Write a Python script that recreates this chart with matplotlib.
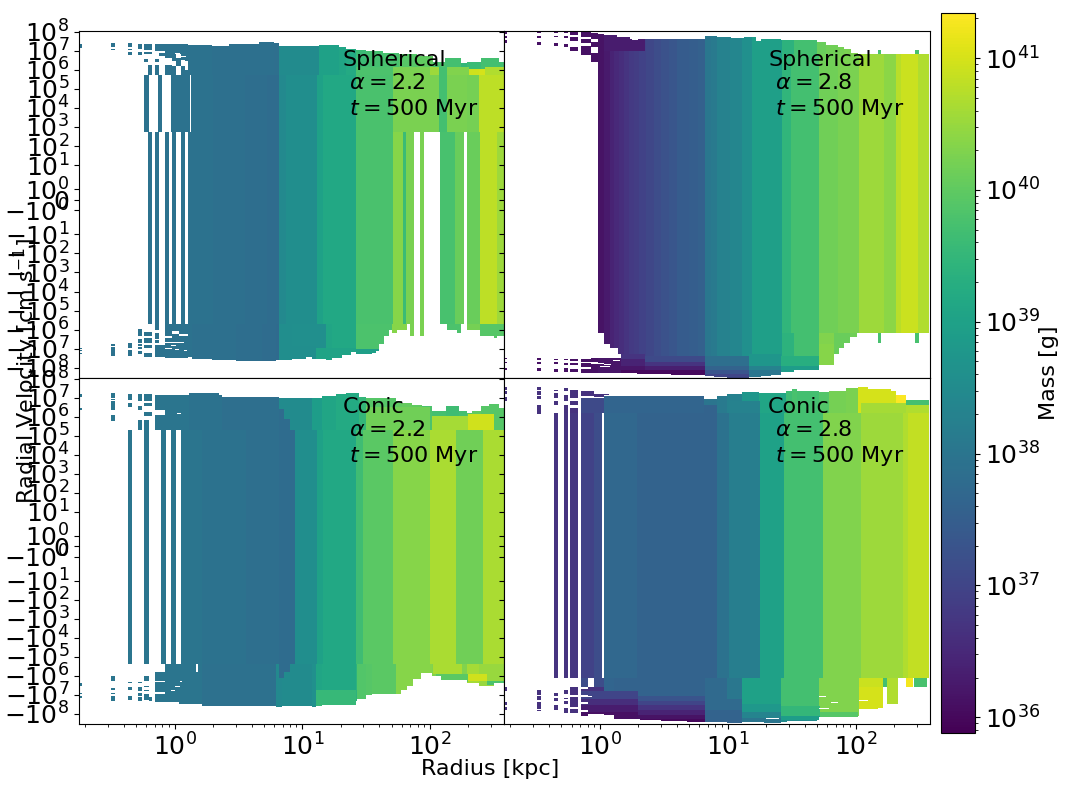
import numpy as np
import matplotlib
matplotlib.use('Agg')
import matplotlib.pyplot as plt
from matplotlib.colors import LogNorm

nan = float('nan')

# all radii are log10(kpc), velocities signed log10(cm/s), masses log10(g)

# --- Spherical, alpha 2.2
A_core_r = [-0.209, -0.177, -0.154, -0.122, -0.076, -0.044, -0.023, 0.008, 0.050, 0.081, 0.105, 0.3, 0.55, 0.72, 0.82,
            0.87, 1.112, 1.16, 1.417, 1.707, 1.79, 1.811, 1.874, 1.921, 1.952, 2.078, 2.193, 2.265, 2.291, 2.391, 2.522, 2.58]
A_core_m = [37.93, nan, 37.93, nan, 37.93, nan, 37.93, nan, 37.93, nan, 37.93, 37.88, 37.84, 37.78, 38.45,
            38.55, 39.0, 39.15, 39.78, 40.35, 39.6, 40.25, nan, 40.25, nan, 39.75, 40.1, nan, 40.1, 40.8, 40.55]
A_mid_r = [-0.240, -0.201, -0.128, -0.096, -0.026, 0.120, 0.128, 0.3, 0.55, 0.72, 0.82, 0.87, 1.112, 1.16, 1.417,
           1.707, 2.07, 2.136, 2.292, 2.383, 2.58]
A_mid_m = [37.93, nan, 37.93, nan, 37.93, nan, 37.93, 37.88, 37.84, 37.78, 38.45, 38.55, 39.0, 39.15, 39.78,
           40.25, 39.7, 40.25, 40.2, 40.8]
A_top_r = [0.105, 0.295, 0.426, 0.660, 0.778, 0.817, 1.13, 1.287, 1.339, 1.417, 1.5, 1.63, 1.76, 1.895, 2.02, 2.12,
           2.24, 2.29, 2.396, 2.54, 2.58]
A_top_v = [7.30, 7.26, 7.33, 7.44, 7.38, 7.26, 7.3, 7.2, 7.1, 7.05, 6.98, 6.9, 6.8, 6.7, 6.38, 6.6, 6.33, 6.38, 6.6, 6.42]
A_top_m = [37.93, 37.88, 37.88, 37.88, 37.85, 38.5, 39.0, 39.1, 39.2, 39.6, 39.7, 39.75, 39.9, 40.0, 39.8, 39.7, 39.5,
           39.6, 39.7, 39.7]
A_bot_r = [0.105, 0.138, 0.295, 0.478, 0.687, 0.791, 0.817, 0.922, 1.026, 1.078, 1.183, 1.235, 1.313, 1.378, 1.417, 1.548,
           1.574, 1.60, 1.64, 1.679, 1.705, 1.744, 1.822, 1.843, 1.874, 1.921, 1.953, 2.078, 2.135, 2.214, 2.24, 2.292,
           2.391, 2.50, 2.527, 2.58]
A_bot_v = [7.44, 7.52, 7.58, 7.65, 7.62, 7.58, 7.58, 7.52, 7.44, 7.52, 7.58, 7.5, 7.35, 7.17, 7.26, 7.22, 7.1, 6.73, 6.35,
           6.03, 6.16, 6.03, 5.8, 6.35, 5.8, 6.35, 5.8, 5.8, 6.03, 6.17, 5.8, 6.03, 6.35, 6.45, 6.35]
A_bot_m = [37.93, 37.88, 37.88, 37.84, 37.8, 37.75, 38.55, 38.58, 38.58, 38.58, 39.1, 39.15, 39.15, 39.15, 39.8, 39.8, 39.8,
           39.8, 39.8, 39.8, 40.35, 40.35, nan, 40.25, nan, 40.25, nan, nan, 39.8, 39.8, nan, 40.2, 39.9, 39.9, 39.9]
A_spk_r0 = [-0.749, -0.749, -0.749, -0.749, -0.498, -0.498, -0.498, -0.498, -0.365, -0.365, -0.365, -0.365, -0.365,
            -0.287, -0.287, -0.287, -0.287, -0.287, -0.287, -0.287, -0.240, -0.240, -0.240, -0.209, -0.240, -0.240, -0.240, -0.240,
            -0.154, -0.154, -0.154, -0.154, -0.154, -0.154, -0.154, -0.122, -0.122, -0.122, -0.076, -0.076, -0.076, -0.076, -0.023,
            -0.023, 0.008, 0.008, 0.05, 0.05, 0.081, 0.081, -0.076, -0.076, -0.076, -0.076, -0.023, -0.023, -0.023, 0.03, 0.03]
A_spk_r1 = [-0.728, -0.728, -0.728, -0.728, -0.467, -0.467, -0.467, -0.467, -0.334, -0.334, -0.334, -0.334, -0.334,
            -0.256, -0.256, -0.256, -0.256, -0.256, -0.256, -0.256, -0.177, -0.177, -0.209, -0.177, -0.177, -0.177, -0.177, -0.177,
            -0.122, -0.122, -0.122, -0.122, -0.122, -0.122, -0.122, -0.076, -0.076, -0.076, -0.023, -0.023, -0.023, -0.023, 0.008,
            0.008, 0.05, 0.05, 0.081, 0.081, 0.105, 0.105, -0.023, -0.023, -0.023, -0.023, 0.03, 0.03, 0.03, 0.105, 0.105]
A_spk_lo = [7.12, -7.03, -7.14, -7.28, 7.17, 7.03, -6.86, -7.38, 7.17, 7.03, 6.79, -6.96, -7.38,
            7.09, 6.79, -6.33, -6.68, -6.86, -7.03, -7.30, 7.03, 6.82, 6.38, 5.72, -6.33, -6.68, -6.96, -7.44,
            7.0, 6.39, 5.72, -6.03, -6.51, -6.7, -7.44, 7.0, 6.7, -7.44, 6.6, 5.72, -6.33, -6.62, 6.45,
            5.72, 6.8, 6.2, 6.5, 5.72, 6.45, 5.72, -6.3, -6.6, -6.95, -7.47, -6.05, -6.65, -7.47, -6.2, -7.47]
A_spk_hi = [7.35, -6.96, -7.09, -7.21, 7.38, 7.10, -6.77, -6.91, 7.38, 7.10, 6.94, -6.68, -7.05,
            7.35, 6.94, -5.98, -6.51, -6.77, -6.91, -7.12, 7.35, 6.94, 6.54, 6.24, -6.14, -6.44, -6.79, -7.21,
            7.35, 6.54, 6.24, -5.72, -6.16, -6.55, -6.8, 7.35, 6.9, -6.8, 7.35, 6.25, -5.98, -6.44, 7.35,
            6.2, 7.35, 6.6, 7.35, 6.2, 7.35, 6.0, -5.72, -6.42, -6.7, -7.0, -5.72, -6.2, -6.7, -5.72, -6.35]
A_spk_m = 37.95
A_rec_r0 = [1.417, 1.71, 2.0, 2.07, 2.136, 2.305, 2.383, 2.43, 0.82, 1.11, 1.42]
A_rec_r1 = [1.71, 2.0, 2.07, 2.136, 2.305, 2.383, 2.43, 2.58, 1.11, 1.42, 1.62]
A_rec_lo = [5.72, 5.72, 5.72, 5.72, 5.72, 5.72, 5.72, 5.72, -7.7, -7.7, -7.4]
A_rec_hi = [6.15, 6.15, 6.15, 6.15, 6.15, 6.03, 6.03, 6.15, -6.85, -6.95, -7.0]
A_rec_m = [39.8, 40.25, 40.55, 39.7, 40.3, 40.95, 41.0, 40.7, 38.55, 39.05, 38.95]
A_hole_r0 = [0.0, 0.05, 0.03, -0.03, 0.0, 0.05, 0.07]
A_hole_r1 = [0.04, 0.09, 0.07, 0.01, 0.03, 0.09, 0.1]
A_hole_lo = [6.83, 6.66, -6.7, -6.85, -7.05, -6.45, -7.1]
A_hole_hi = [6.86, 6.7, -6.66, -6.82, -7.0, -6.41, -7.06]

# --- Spherical, alpha 2.8
B_core_r = [-0.017, 0.030, 0.077, 0.11, 0.148, 0.19, 0.226, 0.265, 0.304, 0.36, 0.422, 0.48, 0.54, 0.604, 0.70, 0.77,
            0.821, 0.87, 0.918, 1.02, 1.113, 1.192, 1.421, 1.492, 1.714, 1.857, 2.027, 2.223, 2.314, 2.353, 2.484, 2.575]
B_core_m = [36.15, 36.25, 36.4, 36.5, 36.6, 36.7, 36.8, 36.85, 36.95, 37.05, 37.15, 37.25, 37.35, 37.45, 37.5, 37.55,
            38.05, 38.1, 38.3, 38.38, 38.6, 38.95, 39.45, 39.7, 40.15, 40.25, 40.55, 40.4, 40.75, 40.9, 40.7]
B_top_r = [-0.017, 0.03, 0.134, 0.239, 0.343, 0.552, 0.821, 0.918, 1.022, 1.126, 1.218, 1.257, 1.414, 1.518, 1.70,
           1.766, 1.857, 1.91, 1.962, 2.014]
B_top_v = [7.87, 7.82, 7.7, 7.61, 7.61, 7.62, 7.77, 7.73, 7.66, 7.7, 7.5, 7.6, 7.56, 7.56, 7.44, 7.3, 7.2, 7.07, 6.86]
B_top_m = [36.15, 36.3, 36.6, 36.85, 37.2, 37.5, 38.05, 38.3, 38.4, 38.7, 38.95, 39.0, 39.4, 39.7, 40.1, 40.15, 40.2,
           40.25, 40.3]
B_bot_r = [0.03, 0.082, 0.14, 0.166, 0.291, 0.552, 0.683, 0.821, 0.891, 0.996, 1.166, 1.257, 1.335, 1.414, 1.518,
           1.714, 1.831, 1.87, 1.91, 1.954, 2.009]
B_bot_v = [6.73, 6.96, 7.26, 8.28, 8.31, 8.35, 8.40, 8.44, 8.49, 8.54, 8.5, 8.45, 8.35, 8.23, 8.10, 7.87, 7.26, 6.96,
           6.7, 6.4]
B_bot_m = [36.4, 36.6, 36.75, 36.8, 37.15, 37.4, 37.5, 38.05, 38.2, 38.4, 38.7, 38.95, 39.0, 39.4, 39.7, 40.3, 40.1,
           40.1, 40.1, 40.15]
B_spk_r0 = [-0.757, -0.757, -0.757, -0.757, -0.757, -0.757, -0.492, -0.492, -0.492, -0.492, -0.492, -0.492, -0.361, -0.361, -0.361, -0.361, -0.361, -0.361,
            -0.283, -0.283, -0.283, -0.283, -0.283, -0.283, -0.231, -0.231, -0.231, -0.231, -0.231, -0.231, -0.150, -0.150, -0.150, -0.150, -0.150, -0.150,
            -0.069, -0.069, -0.069, -0.069, -0.069, -0.017, -0.017, 0.03, 0.03, 0.09]
B_spk_r1 = [-0.727, -0.727, -0.727, -0.727, -0.727, -0.727, -0.458, -0.458, -0.458, -0.458, -0.458, -0.458, -0.330, -0.330, -0.330, -0.330, -0.330, -0.330,
            -0.252, -0.252, -0.252, -0.252, -0.252, -0.252, -0.173, -0.173, -0.173, -0.173, -0.173, -0.173, -0.069, -0.069, -0.069, -0.069, -0.069, -0.069,
            -0.017, -0.017, -0.017, -0.017, -0.017, 0.03, 0.03, 0.09, 0.09, 0.166]
B_spk_lo = [7.87, 7.65, 7.42, -7.56, -7.77, -8.1, 7.91, 7.66, 7.31, -7.61, -7.82, -8.19, 7.91, 7.70, 7.26, -7.59, -7.79, -8.23,
            7.91, 7.66, 7.17, -7.61, -7.87, -8.23, 7.82, 7.5, 6.99, -7.65, -7.87, -8.23, 7.73, 7.38, 6.77, -7.70, -7.96, -8.26,
            7.6, 7.2, 6.38, -7.70, -8.26, -7.72, -8.26, -7.8, -8.26, -8.26]
B_spk_hi = [8.0, 7.77, 7.56, -7.49, -7.70, -8.0, 8.03, 7.77, 7.45, -7.49, -7.70, -8.0, 8.03, 7.77, 7.38, -7.52, -7.70, -8.05,
            8.03, 7.77, 7.35, -7.52, -7.73, -8.0, 8.03, 7.7, 7.2, -7.52, -7.75, -8.05, 8.0, 7.63, 7.24, -7.52, -7.75, -8.05,
            7.95, 7.45, 6.86, -7.49, -7.79, -7.49, -7.78, -7.49, -7.85, -7.5]
B_spk_m = 36.12
B_rec_r0 = [0.03, -0.017, 0.166, 0.166, 0.166, 0.166, 0.35, 0.35, 0.35, 0.35, 0.821, 0.821, 0.821, 0.821, 1.166, 1.166, 1.166, 1.414, 1.414, 1.714]
B_rec_r1 = [0.35, 0.166, 0.35, 0.35, 0.35, 0.35, 0.821, 0.821, 0.821, 0.821, 1.166, 1.166, 1.166, 1.166, 1.414, 1.414, 1.414, 1.714, 1.714, 1.83]
B_rec_lo = [7.0, -8.7, -7.55, -7.9, -8.1, -8.7, -7.7, -7.9, -8.1, -8.7, -7.9, -8.1, -8.3, -8.7, -7.9, -8.1, -8.7, -7.9, -8.7, -7.87]
B_rec_hi = [8.0, -7.5, -7.3, -7.55, -7.9, -8.1, -7.4, -7.7, -7.9, -8.1, -7.4, -7.9, -8.1, -8.3, -7.3, -7.9, -8.1, -7.4, -7.9, -6.73]
B_rec_m = [36.3, 36.2, 36.7, 36.4, 36.2, 36.0, 37.1, 36.7, 36.35, 36.0, 37.85, 37.6, 37.3, 37.0, 38.75, 38.3, 38.0, 39.3, 38.9, 40.35]
B_hole_r0 = [0.0, 0.1, 0.25]
B_hole_r1 = [0.08, 0.16, 0.3]
B_hole_lo = [-7.95, -7.65, 7.56]
B_hole_hi = [-7.9, -7.6, 7.6]
B_extra_r = [2.17, 2.2, 2.46, 2.49]  # the few isolated cells on the far right
B_extra_m = [39.75, nan, 39.75]

# --- Conic, alpha 2.2
C_core_r = [-0.365, -0.334, -0.240, -0.201, -0.107, -0.068, -0.029, 0.011, 0.050, 0.217, 0.556, 0.817, 0.942, 1.112,
            1.16, 1.42, 1.476, 1.707, 2.0, 2.2, 2.418, 2.58]
C_core_m = [38.0, nan, 38.0, nan, 38.0, nan, 38.0, nan, 38.0, 37.95, 37.85, 37.78, 38.55, 39.0, 39.15, 39.65, 39.95,
            40.35, 40.65, 40.15, 40.65]
C_top_r = [-0.076, 0.034, 0.112, 0.347, 0.373, 0.817, 1.078, 1.157, 1.261, 1.339, 1.444, 1.496, 1.731, 1.783, 1.861,
           1.94, 2.018, 2.122, 2.227, 2.292, 2.331, 2.396, 2.462, 2.54, 2.58]
C_top_v = [7.15, 7.15, 7.24, 7.12, 7.03, 6.98, 7.0, 7.07, 7.2, 7.24, 7.03, 6.98, 6.8, 6.72, 6.63, 6.54, 6.27, 6.54,
           6.27, 6.19, 6.27, 6.54, 6.66, 6.45]
C_top_m = [38.0, 38.0, 37.95, 37.95, 37.85, 38.5, 38.9, 39.1, 39.2, 39.2, 39.5, 39.9, 40.0, 40.05, 40.0, 39.8, 39.7,
           39.65, 39.7, 39.9, 40.0, 39.9, 39.9, 39.9]
C_bot_r = [-0.076, 0.034, 0.217, 0.791, 0.843, 0.922, 1.078, 1.11, 1.157, 1.417, 1.43, 1.496, 1.548, 1.731, 1.77,
           1.822, 1.869, 1.927, 1.966, 2.018, 2.083, 2.253, 2.292, 2.383, 2.50, 2.58]
C_bot_v = [7.35, 7.46, 7.56, 7.65, 7.56, 7.6, 7.65, 7.56, 7.51, 7.3, 7.2, 7.03, 6.98, 6.95, 6.74, 6.51, 6.16, 5.84,
           5.86, 6.02, 6.24, 6.24, 6.37, 6.51, 6.39]
C_bot_m = [38.0, 38.0, 37.9, 38.45, 38.5, 38.5, 38.6, 39.1, 39.15, 39.4, 39.85, 39.9, 39.95, 40.35, 40.35, 40.35,
           40.35, 40.35, 40.35, 40.3, 40.4, 40.3, 40.6, 40.5, 40.5]
C_spk_r0 = [-0.749, -0.749, -0.749, -0.749, -0.749, -0.498, -0.498, -0.498, -0.498, -0.498, -0.498, -0.498, -0.498,
            -0.365, -0.365, -0.365, -0.365, -0.365, -0.287, -0.287, -0.287, -0.287, -0.287, -0.287, -0.287,
            -0.240, -0.240, -0.240, -0.240, -0.240, -0.240, -0.240, -0.240, -0.201, -0.154, -0.154, -0.154, -0.154, -0.154, -0.154]
C_spk_r1 = [-0.728, -0.728, -0.728, -0.728, -0.728, -0.467, -0.467, -0.467, -0.467, -0.467, -0.467, -0.467, -0.467,
            -0.334, -0.334, -0.334, -0.334, -0.334, -0.256, -0.256, -0.256, -0.256, -0.256, -0.256, -0.256,
            -0.177, -0.177, -0.177, -0.201, -0.201, -0.201, -0.201, -0.201, -0.177, -0.076, -0.076, -0.076, -0.076, -0.076, -0.076]
C_spk_lo = [7.03, 6.33, -6.51, -6.98, -7.18, 6.98, 6.87, 6.33, 5.78, -6.25, -6.75, -6.97, -7.30,
            6.89, 6.49, -6.40, -6.72, -7.25, 6.8, 6.36, 5.31, -6.40, -6.82, -7.07, -7.33,
            6.8, 6.54, 6.05, 5.31, -6.25, -6.61, -6.82, -7.25, -7.33, 6.36, 5.31, -6.25, -6.51, -6.86, -7.39]
C_spk_hi = [7.19, 6.45, -6.37, -6.91, -7.07, 7.24, 6.94, 6.80, 6.10, -6.02, -6.65, -6.89, -7.07,
            7.21, 6.71, -6.30, -6.61, -7.04, 7.21, 6.54, 5.84, -6.30, -6.61, -6.91, -7.12,
            7.21, 6.71, 6.22, 5.84, -6.02, -6.51, -6.72, -6.95, -7.12, 7.15, 6.1, -5.81, -6.30, -6.56, -6.95]
C_spk_m = 38.0
C_rec_r0 = [2.018, 2.3, 1.5, 0.817, 0.86, 0.817, 0.86, 1.11, 2.02, 2.05, 2.3, 2.45]
C_rec_r1 = [2.3, 2.5, 2.0, 0.86, 0.90, 0.86, 0.90, 1.42, 2.25, 2.3, 2.45, 2.58]
C_rec_lo = [5.31, 5.31, 5.31, 5.31, 5.31, -6.1, -5.8, -7.6, -5.9, -6.3, -6.25, -6.5]
C_rec_hi = [6.05, 6.15, 6.5, 6.4, 5.9, -5.4, -5.4, -6.75, -5.4, -5.9, -5.9, -6.25]
C_rec_m = [40.6, 40.95, 40.15, 37.78, 37.78, 37.78, 37.78, 39.55, 40.65, 39.95, 40.95, 39.8]
C_hole_r0 = [0.17, -0.06, -0.03, 0.0, 0.04, 0.02]
C_hole_r1 = [0.18, -0.03, 0.0, 0.04, 0.06, 0.05]
C_hole_lo = [-5.81, -6.5, -6.8, -6.6, -6.3, 6.15]
C_hole_hi = [-5.4, -6.46, -6.76, -6.56, -6.26, 6.2]

# --- Conic, alpha 2.8
D_core_r = [-0.361, -0.330, -0.283, -0.252, -0.231, -0.173, -0.150, -0.05, 0.020, 0.030, 0.291, 0.912, 1.012, 1.254,
            1.440, 1.740, 2.040, 2.366, 2.410, 2.575]
D_core_m = [36.7, nan, 36.7, nan, 36.75, nan, 36.95, 37.15, nan, 37.7, 37.6, 37.95, 38.2, 39.0, 39.7, 40.3, 40.55,
            40.7, 40.85]
D_top_r = [-0.15, 0.03, 0.813, 0.918, 0.996, 1.113, 1.244, 1.453, 1.505, 1.544, 1.714, 1.792, 1.923, 2.014, 2.093,
           2.275, 2.314, 2.392, 2.575]
D_top_v = [7.0, 7.08, 6.94, 7.07, 7.2, 7.29, 7.24, 7.33, 7.45, 7.33, 7.28, 7.36, 7.5, 7.56, 7.45, 7.36, 7.15, 6.87]
D_top_m = [37.1, 37.65, 38.0, 38.1, 38.25, 38.75, 39.1, 39.65, 39.75, 39.7, 39.85, 40.2, 40.25, 41.0, 41.0, 41.0, 41.3, 39.7]
D_bot_r = [-0.15, 0.03, 0.108, 0.317, 0.474, 0.683, 0.821, 0.996, 1.113, 1.283, 1.414, 1.466, 1.70, 1.714, 2.014,
           2.027, 2.215, 2.241, 2.327, 2.392, 2.445, 2.452, 2.557, 2.575]
D_bot_v = [6.6, 8.05, 8.26, 8.32, 8.39, 8.44, 8.44, 8.49, 8.44, 8.49, 8.44, 8.35, 8.3, 8.18, 8.09, 7.74, 6.6, 7.47,
           6.6, 6.6, 6.6, 6.6, 6.6]
D_bot_m = [37.15, 37.65, 37.6, 37.6, 37.6, 37.6, 37.75, 38.05, 39.0, 39.0, 39.7, 39.7, 39.7, 40.3, 40.3, 40.9, 39.7,
           40.7, nan, 41.25, nan, 39.75, nan]
D_spk_r0 = [-0.757, -0.757, -0.757, -0.757, -0.757, -0.757, -0.492, -0.492, -0.492, -0.492, -0.492, -0.492, -0.492, -0.492,
            -0.361, -0.361, -0.361, -0.361, -0.361, -0.361, -0.283, -0.283, -0.283, -0.283, -0.283, -0.283, -0.283,
            -0.231, -0.231, -0.231, -0.231, -0.231, -0.231, -0.150, -0.150, -0.150, -0.150, -0.05, 0.03, -0.15, -0.09]
D_spk_r1 = [-0.727, -0.727, -0.727, -0.727, -0.727, -0.727, -0.458, -0.458, -0.458, -0.458, -0.458, -0.458, -0.458, -0.458,
            -0.330, -0.330, -0.330, -0.330, -0.330, -0.330, -0.252, -0.252, -0.252, -0.252, -0.252, -0.252, -0.252,
            -0.173, -0.173, -0.173, -0.173, -0.173, -0.173, -0.05, -0.09, -0.09, -0.09, 0.03, 0.07, -0.09, 0.03]
D_spk_lo = [7.40, 7.19, 6.84, -6.81, -7.53, -7.77, 7.42, 7.15, 6.94, 6.15, -7.0, -7.26, -7.74, -7.86,
            7.36, 6.98, 6.63, -7.07, -7.3, -7.82, 7.33, 6.84, 6.19, -6.98, -7.23, -7.47, -7.97,
            6.98, 6.59, 6.19, -7.03, -7.65, -7.95, 7.08, -7.03, -7.39, -7.82, 7.05, 7.12, -8.09, -8.0]
D_spk_hi = [7.54, 7.33, 7.01, -6.6, -7.35, -7.65, 7.56, 7.36, 7.07, 6.59, -6.77, -7.07, -7.35, -7.79,
            7.42, 7.24, 6.84, -6.91, -7.16, -7.51, 7.5, 7.12, 6.59, -6.77, -7.16, -7.3, -7.7,
            7.38, 6.84, 6.45, -6.6, -7.12, -7.74, 7.33, -6.68, -7.12, -7.47, 7.2, 7.2, -7.88, -6.6]
D_spk_m = 36.65
D_rec_r0 = [0.813, 1.012, 2.04, 2.392, -0.15, -0.15, -0.15, -0.15, 0.3, 0.3, 0.3, 0.3, 0.3, 0.3, 0.821, 0.821, 1.113, 1.113, 1.113, 1.414, 1.414, 1.414, 1.72, 2.027]
D_rec_r1 = [0.912, 1.254, 2.392, 2.575, 0.3, 0.3, 0.3, 0.3, 0.821, 0.821, 0.821, 0.821, 0.821, 0.821, 1.113, 1.113, 1.414, 1.414, 1.414, 1.72, 1.72, 1.72, 2.02, 2.215]
D_rec_lo = [6.19, 6.19, 6.19, 6.19, -7.2, -7.55, -7.9, -8.7, -7.3, -7.55, -7.8, -8.05, -8.25, -8.7, -7.8, -8.7, -7.9, -8.2, -8.7, -8.1, -8.3, -8.7, -8.2, -7.74]
D_rec_hi = [6.63, 6.8, 6.7, 6.63, -6.8, -7.2, -7.55, -7.9, -7.05, -7.3, -7.55, -7.8, -8.05, -8.25, -7.2, -7.8, -7.5, -7.9, -8.2, -7.6, -8.1, -8.3, -7.9, -6.6]
D_rec_m = [37.6, 38.3, 40.6, 40.7, 37.0, 36.6, 36.3, 36.1, 37.3, 37.0, 36.7, 36.4, 36.15, 36.0, 37.75, 37.6, 38.8, 38.35, 38.0, 39.5, 38.9, 38.5, 39.9, 41.0]
D_hole_r0 = [1.113, 1.296, 1.505, 1.46, 1.714, 1.714, 1.805, 2.027, 2.105, 2.17, -0.095, -0.1, -0.02]
D_hole_r1 = [1.166, 1.40, 1.557, 1.635, 1.766, 1.792, 1.857, 2.092, 2.145, 2.235, -0.048, -0.06, 0.03]
D_hole_lo = [-8.13, -8.27, -7.81, -8.34, -7.12, -7.74, -7.42, -7.32, -7.6, -7.74, -6.6, -7.1, -7.4]
D_hole_hi = [-8.09, -8.23, -7.77, -8.30, -7.07, -7.68, -7.39, -7.25, -7.56, -7.7, -6.09, -7.05, -7.35]

PANEL_TITLES = ['Spherical', 'Spherical', 'Conic', 'Conic']
PANEL_ALPHA = [2.2, 2.8, 2.2, 2.8]
PANEL_TIME = [500, 500, 500, 500]
Y_TICKS = [-1e8, -1e7, -1e6, -1e5, -1e4, -1e3, -1e2, -1e1, -1, 0, 1, 1e1, 1e2, 1e3, 1e4, 1e5, 1e6, 1e7, 1e8]


def sv(e):
    # signed log10 velocity back to cm/s
    e = np.asarray(e, dtype=float)
    return np.sign(e) * 10**np.abs(e)


def column_rects(r, lo, hi, m):
    n = len(m)
    lo = np.broadcast_to(lo, n)
    hi = np.broadcast_to(hi, n)
    return [(r[i], r[i + 1], lo[i], hi[i], m[i], False) for i in range(n)]


def box_rects(r0, r1, lo, hi, m, only_filled=False):
    m = np.broadcast_to(m, len(r0))
    return [(r0[i], r1[i], lo[i], hi[i], m[i], only_filled) for i in range(len(r0))]


def draw_panel(ax, rects, norm):
    xs = np.unique([q for t in rects for q in t[:2]])
    ys = np.unique(sv([q for t in rects for q in t[2:4]]))
    z = np.full((len(ys) - 1, len(xs) - 1), np.nan)
    for r0, r1, lo, hi, m, only_filled in rects:
        i0, i1 = np.searchsorted(xs, [r0, r1])
        j0, j1 = np.searchsorted(ys, sv([lo, hi]))
        if only_filled:
            sub = z[j0:j1, i0:i1]
            sub[~np.isnan(sub)] = m
        else:
            z[j0:j1, i0:i1] = m
    return ax.pcolormesh(10**xs, ys, np.ma.masked_invalid(10**z), norm=norm, cmap='viridis')


plt.rcParams['font.size'] = 16
norm = LogNorm(vmin=7.6e35, vmax=2.2e41)

# carry the alpha 2.8 column tones through the caps, up to the 26 kpc shell
n_tone = 22
B_tone_r0 = B_core_r[:n_tone]
B_tone_r1 = B_core_r[1:n_tone + 1]

panel_rects = [
    column_rects(A_core_r, -5.72, 2.72, A_core_m) + column_rects(A_mid_r, 2.72, 5.72, A_mid_m)
    + column_rects(A_top_r, 5.72, A_top_v, A_top_m) + column_rects(A_bot_r, -np.array(A_bot_v), -5.72, A_bot_m)
    + box_rects(A_spk_r0, A_spk_r1, A_spk_lo, A_spk_hi, A_spk_m)
    + box_rects(A_rec_r0, A_rec_r1, A_rec_lo, A_rec_hi, A_rec_m, True)
    + box_rects(A_hole_r0, A_hole_r1, A_hole_lo, A_hole_hi, nan),
    column_rects(B_core_r, -6.17, 6.82, B_core_m) + column_rects(B_top_r, 6.82, B_top_v, B_top_m)
    + column_rects(B_bot_r, -np.array(B_bot_v), -6.17, B_bot_m) + column_rects(B_extra_r, 6.82, 7.03, B_extra_m)
    + column_rects(B_extra_r, -6.7, -6.17, B_extra_m)
    + box_rects(B_tone_r0, B_tone_r1, [-8.7] * n_tone, [8.1] * n_tone, B_core_m[:n_tone], True)
    + box_rects(B_spk_r0, B_spk_r1, B_spk_lo, B_spk_hi, B_spk_m)
    + box_rects(B_rec_r0, B_rec_r1, B_rec_lo, B_rec_hi, B_rec_m, True)
    + box_rects(B_hole_r0, B_hole_r1, B_hole_lo, B_hole_hi, nan),
    column_rects(C_core_r, -5.40, 5.31, C_core_m) + column_rects(C_top_r, 5.31, C_top_v, C_top_m)
    + column_rects(C_bot_r, -np.array(C_bot_v), -5.40, C_bot_m)
    + box_rects(C_spk_r0, C_spk_r1, C_spk_lo, C_spk_hi, C_spk_m)
    + box_rects(C_rec_r0, C_rec_r1, C_rec_lo, C_rec_hi, C_rec_m, True)
    + box_rects(C_hole_r0, C_hole_r1, C_hole_lo, C_hole_hi, nan),
    column_rects(D_core_r, -6.09, 6.19, D_core_m) + column_rects(D_top_r, 6.19, D_top_v, D_top_m)
    + column_rects(D_bot_r, -np.array(D_bot_v), -6.09, D_bot_m)
    + box_rects(D_spk_r0, D_spk_r1, D_spk_lo, D_spk_hi, D_spk_m)
    + box_rects(D_rec_r0, D_rec_r1, D_rec_lo, D_rec_hi, D_rec_m, True)
    + box_rects(D_hole_r0, D_hole_r1, D_hole_lo, D_hole_hi, nan),
]

W, H = 1068, 789
fig = plt.figure(figsize=(W / 100, H / 100), dpi=100)
boxes = [(79, 31, 425, 347), (504, 31, 426, 347), (79, 378, 425, 346), (504, 378, 426, 346)]
for k, (x, y, w, h) in enumerate(boxes):
    ax = fig.add_axes([x / W, 1 - (y + h) / H, w / W, h / H])
    mesh = draw_panel(ax, panel_rects[k], norm)
    ax.set_xscale('log')
    ax.set_yscale('symlog', linthresh=2, linscale=1)
    ax.set_xlim(0.178, 380)
    ax.set_ylim(-3.4e8, 1.07e8)
    ax.set_yticks(Y_TICKS)
    ax.yaxis.set_minor_locator(plt.NullLocator())
    ax.tick_params(labelsize=18)
    if k < 2:
        ax.tick_params(labelbottom=False)
    if k % 2 == 1:
        ax.tick_params(labelleft=False)
    ax.text(0.62, 0.945, f"{PANEL_TITLES[k]}\n $\\alpha = {PANEL_ALPHA[k]}$\n $t = {PANEL_TIME[k]}$ Myr",
            transform=ax.transAxes, fontsize=16, va='top', ha='left')

cax = fig.add_axes([941 / W, 1 - 733 / H, 34 / W, 720 / H])
cb = fig.colorbar(mesh, cax=cax)
cb.ax.tick_params(labelsize=18)
cb.set_label('Mass [g]', fontsize=16, labelpad=-1)

fig.text(490 / W, 1 - 769 / H, 'Radius [kpc]', ha='center', va='center', fontsize=16)
fig.text(26 / W, 1 - 371 / H, r'Radial Velocity [cm s$^{-1}$]', rotation=90, ha='center', va='center', fontsize=16)

plt.savefig('out.png', dpi=100)
